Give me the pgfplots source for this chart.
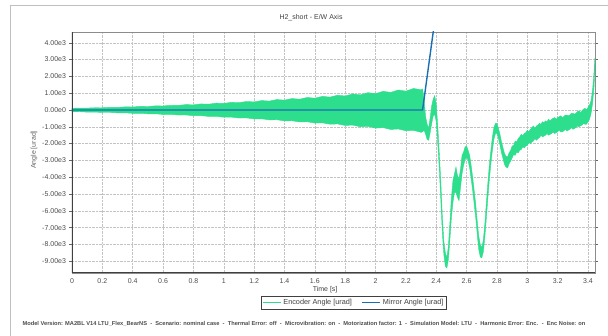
\documentclass[border=0pt]{standalone}
\usepackage{pgfplots}
\pgfplotsset{compat=1.18}
\usepackage{fontspec}
\setmainfont{Liberation Sans}
\definecolor{enc}{RGB}{45,222,140}
\definecolor{mir}{RGB}{25,110,180}
\definecolor{gridc}{RGB}{195,195,195}
\begin{document}
\begin{tikzpicture}
\path[use as bounding box] (-72pt,-63pt) rectangle (536pt,273pt);
\draw[black!25, line width=0.6pt] (-62pt,-63pt) -- (-62pt,268pt) -- (536pt,268pt);
\begin{axis}[
  at={(0,0)}, anchor=south west,
  scale only axis, width=523pt, height=241pt,
  xmin=0, xmax=3.446, ymin=-9700, ymax=4640,
  xtick={0,0.2,0.4,0.6,0.8,1,1.2,1.4,1.6,1.8,2,2.2,2.4,2.6,2.8,3,3.2,3.4},
  xticklabels={0,0.2,0.4,0.6,0.8,1,1.2,1.4,1.6,1.8,2,2.2,2.4,2.6,2.8,3,3.2,3.4},
  ytick={-9000,-8000,-7000,-6000,-5000,-4000,-3000,-2000,-1000,0,1000,2000,3000,4000},
  yticklabels={-9.00e3,-8.00e3,-7.00e3,-6.00e3,-5.00e3,-4.00e3,-3.00e3,-2.00e3,-1.00e3,0.00e0,1.00e3,2.00e3,3.00e3,4.00e3},
  grid=major, grid style={densely dotted, gridc, line width=0.5pt},
  xtick style={draw=none},
  ytick style={black!60, line width=0.5pt}, tick align=outside, major tick length=2.5pt,
  tick label style={font=\fontsize{7}{8}\selectfont, text=black!70},
  axis line style={black!45, line width=0.9pt},
  title={H2\_short - E/W Axis},
  title style={at={(rel axis cs:0.457,1)}, anchor=south, yshift=1.5pt, font=\fontsize{7}{8}\selectfont, text=black!75},
  xlabel={Time [s]},
  xlabel style={at={(rel axis cs:0.484,0)}, anchor=north, yshift=-10pt, font=\fontsize{7}{8}\selectfont, text=black!75},
  legend style={at={(rel axis cs:0.539,-0.124)}, anchor=center, legend columns=2,
    draw=black!75, line width=0.6pt, font=\fontsize{7.3}{8}\selectfont, text=black!75,
    inner sep=1.2pt, /tikz/every even column/.append style={column sep=8pt}},
  legend image code/.code={\draw[#1, line width=1pt] (0pt,0pt) -- (18pt,0pt);},
]
\addplot[fill=enc, draw=enc, line width=0.4pt] coordinates {
(0.00,100) (0.05,115) (0.10,112) (0.15,135) (0.20,130) (0.25,160) (0.30,152) (0.35,185) (0.40,178) (0.45,215)
(0.50,205) (0.55,245) (0.60,236) (0.65,280) (0.70,270) (0.75,320) (0.80,305) (0.85,360) (0.90,345) (0.95,405)
(1.00,390) (1.05,455) (1.10,435) (1.15,505) (1.20,480) (1.25,560) (1.30,530) (1.35,620) (1.40,585) (1.45,680)
(1.50,640) (1.55,745) (1.60,700) (1.65,810) (1.70,765) (1.75,880) (1.80,830) (1.85,955) (1.90,900) (1.95,1030)
(2.00,970) (2.05,1110) (2.10,1045) (2.15,1190) (2.20,1120) (2.25,1280) (2.30,1200) (2.31,1250)
(2.32,600) (2.33,-400) (2.34,-850) (2.35,-1100) (2.36,-450) (2.37,250) (2.38,650) (2.39,850) (2.40,350)
(2.41,-950) (2.42,-2550) (2.43,-4250) (2.44,-6300) (2.45,-7800) (2.46,-8500) (2.47,-8800) (2.48,-8100)
(2.49,-6700) (2.50,-5200) (2.51,-4200) (2.52,-3800) (2.53,-3400) (2.54,-3900) (2.55,-4100) (2.56,-3500)
(2.57,-2700) (2.58,-2500) (2.59,-2200) (2.60,-2150) (2.61,-2400) (2.62,-2700) (2.63,-3300) (2.64,-4000)
(2.65,-4800) (2.66,-5600) (2.67,-6600) (2.68,-7500) (2.69,-8000) (2.70,-8200) (2.71,-7750) (2.72,-6800)
(2.73,-5550) (2.74,-4350) (2.75,-3250) (2.76,-2400) (2.77,-1600) (2.78,-1050) (2.79,-800) (2.80,-800)
(2.81,-1100) (2.82,-1450) (2.83,-1900) (2.84,-2250) (2.85,-2600) (2.86,-2750) (2.87,-2800) (2.88,-2550)
(2.89,-2400) (2.90,-2150) (2.91,-2100) (2.92,-1850) (2.93,-1900) (2.94,-1700) (2.95,-1600) (2.96,-1450)
(2.97,-1550) (2.98,-1400) (2.99,-1350) (3.00,-1200) (3.01,-1300) (3.02,-1150) (3.03,-1050) (3.04,-950)
(3.05,-1100) (3.06,-950) (3.07,-900) (3.08,-800) (3.09,-850) (3.10,-700) (3.11,-750) (3.12,-650)
(3.13,-700) (3.14,-550) (3.15,-650) (3.16,-550) (3.17,-500) (3.18,-450) (3.19,-550) (3.20,-450)
(3.21,-400) (3.22,-350) (3.23,-450) (3.24,-400) (3.25,-300) (3.26,-300) (3.27,-350) (3.28,-300)
(3.29,-200) (3.30,-200) (3.31,-250) (3.32,-200) (3.33,-100) (3.34,-50) (3.35,-150) (3.36,-50)
(3.37,50) (3.38,100) (3.39,0) (3.40,150) (3.41,300) (3.42,550) (3.43,1200) (3.44,2300) (3.445,3100)
(3.445,2500) (3.44,1400) (3.43,400) (3.42,-200) (3.41,-550) (3.40,-700) (3.39,-850) (3.38,-850)
(3.37,-800) (3.36,-900) (3.35,-950) (3.34,-1000) (3.33,-950) (3.32,-1050) (3.31,-1100) (3.30,-1150)
(3.29,-1050) (3.28,-1150) (3.27,-1200) (3.26,-1250) (3.25,-1150) (3.24,-1250) (3.23,-1300) (3.22,-1300)
(3.21,-1200) (3.20,-1300) (3.19,-1350) (3.18,-1400) (3.17,-1300) (3.16,-1400) (3.15,-1450) (3.14,-1500)
(3.13,-1400) (3.12,-1500) (3.11,-1550) (3.10,-1600) (3.09,-1500) (3.08,-1650) (3.07,-1700) (3.06,-1800)
(3.05,-1700) (3.04,-1850) (3.03,-1900) (3.02,-2000) (3.01,-1950) (3.00,-2100) (2.99,-2150) (2.98,-2250)
(2.97,-2200) (2.96,-2350) (2.95,-2400) (2.94,-2550) (2.93,-2500) (2.92,-2700) (2.91,-2650) (2.90,-2850)
(2.89,-3050) (2.88,-3200) (2.87,-3450) (2.86,-3400) (2.85,-3250) (2.84,-2900) (2.83,-2550) (2.82,-2100)
(2.81,-1700) (2.80,-1400) (2.79,-1400) (2.78,-1750) (2.77,-2400) (2.76,-3200) (2.75,-4150) (2.74,-5250)
(2.73,-6450) (2.72,-7600) (2.71,-8450) (2.70,-8800) (2.69,-8750) (2.68,-8300) (2.67,-7400) (2.66,-6400)
(2.65,-5600) (2.64,-4800) (2.63,-4100) (2.62,-3450) (2.61,-3000) (2.60,-2800) (2.59,-2950) (2.58,-3300)
(2.57,-3800) (2.56,-4600) (2.55,-5400) (2.54,-5200) (2.53,-4900) (2.52,-4900) (2.51,-5500) (2.50,-6400)
(2.49,-7700) (2.48,-8900) (2.47,-9400) (2.46,-9300) (2.45,-8600) (2.44,-7300) (2.43,-5350) (2.42,-3500)
(2.41,-2000) (2.40,-700) (2.39,-250) (2.38,-350) (2.37,-800) (2.36,-1350) (2.35,-1800) (2.34,-1750)
(2.33,-1450) (2.32,-1200) (2.31,-1300)
(2.30,-1330) (2.25,-1210) (2.20,-1240) (2.15,-1130) (2.10,-1160) (2.05,-1050) (2.00,-1080) (1.95,-975)
(1.90,-1000) (1.85,-900) (1.80,-920) (1.75,-830) (1.70,-850) (1.65,-765) (1.60,-780) (1.55,-700)
(1.50,-715) (1.45,-640) (1.40,-650) (1.35,-580) (1.30,-590) (1.25,-525) (1.20,-530) (1.15,-475)
(1.10,-480) (1.05,-425) (1.00,-430) (0.95,-380) (0.90,-385) (0.85,-335) (0.80,-340) (0.75,-298)
(0.70,-300) (0.65,-262) (0.60,-265) (0.55,-228) (0.50,-230) (0.45,-198) (0.40,-200) (0.35,-170)
(0.30,-172) (0.25,-148) (0.20,-150) (0.15,-125) (0.10,-128) (0.05,-105) (0.00,-110)
} -- cycle;
\addlegendentry{Encoder Angle [urad]}
\addplot[mir, line width=1.4pt] coordinates {(0,0) (2.31,0) (2.38,4640) (2.42,7300)};
\addlegendentry{Mirror Angle [urad]}
\draw[black!75, line width=1.2pt] (rel axis cs:0,1) -- (rel axis cs:0,0) -- (rel axis cs:1,0);
\end{axis}
\node[rotate=90, font=\fontsize{7}{8}\selectfont, text=black!60] at (-38pt,123pt) {Angle [urad]};
\node[font=\bfseries\fontsize{5.7}{6}\selectfont, text=black!70] at (232pt,-51pt)
 {Model Version: MA2BL V14 LTU\_Flex\_BearNS \ - \ Scenario: nominal case \ - \ Thermal Error: off \ - \ Microvibration: on \ - \ Motorization factor: 1 \ - \ Simulation Model: LTU \ - \ Harmonic Error: Enc. \ - \ Enc Noise: on};
\end{tikzpicture}
\end{document}
